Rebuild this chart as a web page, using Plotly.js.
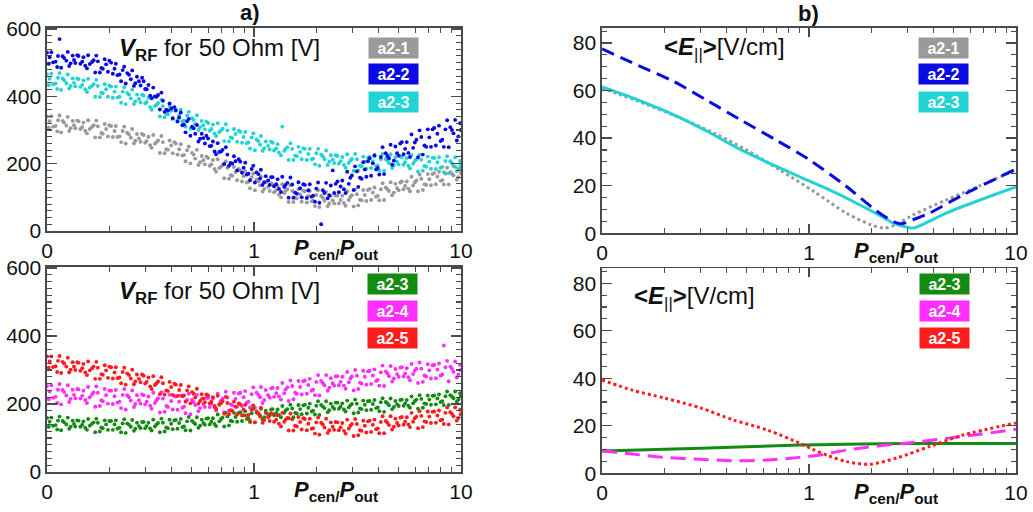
<!DOCTYPE html>
<html>
<head>
<meta charset="utf-8">
<script src="https://cdn.plot.ly/plotly-3.0.1.min.js"></script>
<style>html,body{margin:0;padding:0;background:#fff;}#chart{width:1033px;height:512px;}</style>
</head>
<body>
<div id="chart"></div>
<script>
// ---------- DATA ----------
// P_cen/P_out sample points of the two scans (shared by the scatter series)
const ratioScan1 = [
  0.100, 0.103, 0.107, 0.112, 0.115, 0.119, 0.124, 0.128, 0.133, 0.137,
  0.142, 0.148, 0.153, 0.158, 0.165, 0.171, 0.176, 0.183, 0.190, 0.197,
  0.204, 0.212, 0.219, 0.228, 0.236, 0.244, 0.254, 0.263, 0.272, 0.283,
  0.293, 0.303, 0.315, 0.326, 0.338, 0.351, 0.363, 0.377, 0.391, 0.405,
  0.419, 0.435, 0.451, 0.467, 0.484, 0.502, 0.520, 0.539, 0.559, 0.579,
  0.600, 0.622, 0.645, 0.668, 0.693, 0.718, 0.744, 0.771, 0.800, 0.829,
  0.859, 0.891, 0.923, 0.957, 0.992, 1.03, 1.07, 1.10, 1.14, 1.19,
  1.23, 1.28, 1.32, 1.37, 1.42, 1.47, 1.53, 1.58, 1.64, 1.70,
  1.76, 1.83, 1.90, 1.97, 2.04, 2.11, 2.19, 2.27, 2.35, 2.44,
  2.53, 2.62, 2.72, 2.82, 2.92, 3.03, 3.14, 3.25, 3.37, 3.49,
  3.62, 3.75, 3.89, 4.03, 4.18, 4.33, 4.49, 4.65, 4.82, 5.00,
  5.18, 5.37, 5.57, 5.77, 5.98, 6.20, 6.43, 6.66, 6.91, 7.16,
  7.42, 7.69, 7.97, 8.26, 8.57, 8.88, 9.20, 9.54, 9.89
];
const ratioScan2 = [
  0.102, 0.105, 0.110, 0.113, 0.117, 0.121, 0.126, 0.130, 0.135, 0.140,
  0.145, 0.150, 0.156, 0.161, 0.168, 0.173, 0.180, 0.186, 0.193, 0.200,
  0.208, 0.215, 0.224, 0.232, 0.240, 0.249, 0.258, 0.267, 0.278, 0.288,
  0.298, 0.309, 0.320, 0.332, 0.344, 0.357, 0.370, 0.384, 0.398, 0.412,
  0.427, 0.443, 0.459, 0.475, 0.493, 0.511, 0.530, 0.549, 0.569, 0.589,
  0.611, 0.633, 0.656, 0.680, 0.705, 0.731, 0.757, 0.785, 0.814, 0.844,
  0.875, 0.907, 0.940, 0.974, 1.01, 1.05, 1.08, 1.12, 1.17, 1.21,
  1.25, 1.30, 1.35, 1.40, 1.45, 1.50, 1.55, 1.61, 1.67, 1.73,
  1.80, 1.86, 1.93, 2.00, 2.07, 2.15, 2.23, 2.31, 2.40, 2.48,
  2.57, 2.67, 2.77, 2.87, 2.97, 3.08, 3.19, 3.31, 3.43, 3.55,
  3.68, 3.82, 3.96, 4.10, 4.25, 4.41, 4.57, 4.74, 4.91, 5.09,
  5.28, 5.47, 5.67, 5.87, 6.09, 6.31, 6.54, 6.79, 7.03, 7.29,
  7.56, 7.83, 8.12, 8.41, 8.72, 9.04, 9.37, 9.71, 9.97
];
// V_RF for 50 Ohm [V], scan 1 / scan 2
const vA21s1 = [
  340,326,310,296,343,327,313,297,327,305,
  326,309,298,329,309,278,311,291,318,281,
  312,297,279,264,310,292,277,260,288,265,
  285,267,255,285,264,232,264,243,269,231,
  260,243,224,207,251,232,215,196,223,198,
  217,198,184,213,191,157,188,166,190,151,
  180,163,144,127,171,153,136,117,144,119,
  138,121,108,139,119,86,119,99,124,87,
  118,104,88,74,121,104,90,74,104,82,
  105,92,83,118,101,73,109,93,122,89,
  125,114,102,91,142,129,119,106,140,121,
  147,134,126,161,145,118,155,139,169,136,
  172,161,149,138,188,175,165,152,185
];
const vA21s2 = [
  307,341,312,329,293,322,339,305,314,328,
  303,322,290,303,314,328,278,289,303,314,
  279,312,281,297,260,287,303,268,275,288,
  262,280,247,259,269,282,231,241,254,264,
  227,258,226,240,201,227,241,204,210,221,
  194,211,176,187,196,207,155,164,175,184,
  147,178,146,160,121,148,162,125,131,142,
  115,134,100,113,124,136,86,97,109,120,
  85,119,90,107,71,99,116,82,91,105,
  82,105,75,92,106,123,76,91,107,122,
  92,129,104,124,92,124,145,114,127,144,
  124,147,118,135,150,168,122,137,154,169,
  139,176,151,171,138,170,191,160,172
];
const vA22s1 = [
  530,516,501,487,570,519,506,490,521,499,
  520,503,491,522,502,471,504,484,510,473,
  500,482,463,445,488,469,451,431,458,432,
  445,421,402,426,399,361,387,360,379,335,
  358,337,314,293,333,310,289,266,289,260,
  275,253,236,261,236,199,227,202,222,180,
  206,188,168,151,194,174,156,137,163,137,
  160,139,125,161,137,99,138,114,145,100,
  137,121,102,87,144,20,113,97,135,113,
  147,132,124,176,158,122,177,158,204,161,
  216,201,183,168,249,231,216,197,251,224,
  264,244,232,287,263,219,279,254,302,250,
  306,289,267,250,329,308,290,269,320
];
const vA22s2 = [
  497,531,503,520,485,514,532,498,508,522,
  497,516,483,496,507,521,471,482,495,506,
  467,497,465,478,438,464,477,439,445,455,
  422,434,394,400,404,411,354,358,364,368,
  325,352,316,326,283,305,315,274,276,283,
  252,266,228,235,241,249,194,200,207,213,
  173,203,170,184,144,169,182,145,150,160,
  133,154,116,131,143,159,99,111,127,139,
  98,139,105,126,84,121,143,106,180,140,
  115,150,113,140,165,192,131,155,183,207,
  164,225,187,220,169,223,256,209,231,260,
  228,264,220,247,271,299,227,250,278,302,
  254,313,271,302,249,300,330,281,300
];
const vA23topS1 = [
  466,452,436,422,469,453,439,423,453,430,
  451,434,421,452,431,399,431,411,436,399,
  429,414,397,381,427,410,394,377,405,382,
  402,383,368,397,375,340,371,349,372,333,
  362,345,326,310,354,335,318,300,327,302,
  321,303,290,320,299,267,299,278,303,265,
  295,279,261,245,290,272,256,238,266,242,
  262,245,233,310,244,211,244,224,250,213,
  244,229,213,198,244,227,213,196,225,202,
  223,207,196,228,209,179,213,194,221,185,
  220,207,193,180,229,214,202,187,219,198,
  220,204,194,226,208,177,212,193,221,185,
  217,204,188,175,222,207,193,178,208
];
const vA23topS2 = [
  433,467,438,455,419,448,465,431,440,453,
  428,447,413,426,436,449,398,409,421,432,
  396,429,399,414,377,405,420,385,392,405,
  379,396,360,371,380,390,338,347,357,366,
  329,360,328,343,304,330,344,308,314,325,
  298,316,282,294,304,317,266,276,288,298,
  262,294,263,278,240,267,282,246,253,265,
  239,258,225,238,249,261,211,222,235,246,
  211,244,215,231,194,222,239,206,212,225,
  200,220,188,202,214,229,180,192,206,218,
  187,222,195,213,179,209,228,195,206,221,
  197,217,186,200,213,227,179,191,206,218,
  184,219,190,208,172,202,219,186,195
];
const vA23botS1 = [
  159,148,136,125,163,150,140,127,151,134,
  151,139,130,156,142,117,145,131,152,124,
  150,140,128,117,155,143,133,121,145,129,
  147,135,128,154,140,117,145,131,154,126,
  153,144,132,123,162,150,141,130,154,139,
  158,148,141,169,156,134,163,151,174,148,
  176,167,156,147,186,175,166,155,180,166,
  185,174,167,194,181,158,187,174,197,170,
  198,189,178,169,208,197,188,176,201,186,
  204,192,184,210,196,173,201,187,210,182,
  209,200,188,179,217,206,196,185,209,194,
  213,202,195,222,209,186,215,202,225,198,
  225,216,206,197,237,226,217,207,232
];
const vA23botS2 = [
  133,160,138,151,123,146,160,133,141,152,
  133,149,124,136,146,157,119,129,140,150,
  124,152,130,143,115,139,153,127,135,147,
  129,145,122,134,144,157,119,129,142,152,
  127,156,134,149,122,146,161,136,144,157,
  140,158,135,149,160,174,137,149,162,174,
  150,179,158,173,146,171,186,161,170,184,
  167,184,161,174,185,198,161,172,185,196,
  172,201,180,195,168,193,208,182,191,204,
  186,202,178,190,200,213,175,185,198,208,
  183,212,190,205,177,202,216,191,199,212,
  195,212,189,202,213,226,189,200,213,224,
  199,228,208,223,197,222,237,213,222
];
const vA24s1 = [
  253,237,218,203,259,241,225,206,242,217,
  243,224,212,250,228,192,233,211,244,201,
  239,223,204,188,244,226,210,191,226,201,
  226,207,195,233,211,175,216,194,227,184,
  222,207,189,173,230,212,197,179,215,191,
  218,201,190,230,210,176,219,199,233,192,
  233,220,204,190,249,233,220,203,241,219,
  248,232,222,262,243,209,253,233,268,228,
  269,256,239,226,285,268,255,239,276,254,
  282,265,254,294,275,240,283,263,298,257,
  298,284,268,254,313,296,282,266,303,280,
  308,290,279,318,298,262,304,284,317,275,
  315,301,284,372,327,310,295,278,315
];
const vA24s2 = [
  214,255,221,242,199,235,255,215,227,244,
  216,239,203,220,234,252,194,208,226,240,
  200,241,207,227,184,220,240,200,211,228,
  199,222,186,203,217,235,177,191,209,223,
  183,225,192,212,170,206,227,188,200,218,
  191,216,181,200,216,236,180,196,215,231,
  194,238,207,229,189,227,250,212,226,246,
  221,247,213,232,249,269,214,230,250,267,
  230,274,242,265,225,262,285,248,261,281,
  255,280,245,264,281,300,244,260,280,296,
  259,302,271,293,253,290,312,275,288,307,
  281,305,270,288,304,322,265,281,299,314,
  276,319,287,308,267,304,325,287,300
];
const vA25s1 = [
  340,325,309,294,341,324,310,293,323,300,
  321,305,293,325,305,274,307,288,314,277,
  308,293,276,261,307,290,275,258,287,264,
  283,265,252,282,261,229,261,240,265,227,
  257,241,223,207,252,235,219,201,229,205,
  225,207,194,224,203,171,203,182,207,169,
  199,183,166,150,196,178,163,145,174,150,
  171,154,142,174,154,122,155,136,162,125,
  156,142,127,113,160,145,131,115,146,124,
  146,131,121,154,136,106,141,123,151,116,
  151,139,126,114,164,150,138,125,157,137,
  162,148,140,174,158,129,165,149,178,144,
  178,166,152,141,190,176,164,151,183
];
const vA25s2 = [
  307,340,311,327,291,319,336,301,310,323,
  298,318,285,299,310,324,274,286,299,310,
  275,308,278,294,257,285,301,266,274,287,
  260,278,244,256,266,279,228,238,250,260,
  224,256,225,240,202,230,245,209,216,228,
  202,220,186,198,208,221,170,180,192,202,
  166,198,168,183,146,173,189,153,161,173,
  148,167,134,148,159,172,122,134,147,158,
  123,157,129,146,110,140,157,123,133,147,
  123,144,113,128,141,156,108,121,136,149,
  118,154,128,147,114,145,164,133,144,160,
  139,161,132,148,163,179,132,147,163,177,
  145,181,154,174,140,171,190,159,170
];
// <E||> [V/cm] curves
const eA21x = [0.1, 0.15, 0.24, 0.35, 0.5, 0.72, 1.06, 1.52, 2.0, 2.3, 2.6, 3.18, 4.6, 6.7, 10];
const eA21y = [61, 55.5, 48.4, 42, 35, 26.7, 17.5, 8.4, 3.5, 2.2, 3.4, 7.7, 14, 20, 26.7];
const eA22x = [0.1, 0.15, 0.22, 0.32, 0.46, 0.7, 1.0, 1.5, 2.2, 2.75, 3.2, 3.8, 5.5, 10];
const eA22y = [77.5, 70.5, 64, 56, 48, 39, 31, 20, 8.4, 4, 5.8, 8.4, 16, 27];
const eA23x = [0.1, 0.15, 0.22, 0.32, 0.46, 0.7, 1.0, 1.27, 1.6, 2.2, 2.54, 3.0, 3.2, 3.6, 4.6, 6.7, 10];
const eA23y = [61.5, 56, 50, 43, 35.5, 28, 22, 18, 13.8, 7.5, 4.4, 2.5, 2.2, 4, 8.5, 14, 19.5];
const eA23bx = [0.1, 0.3, 0.9, 1.5, 3, 10];
const eA23by = [9.4, 10.5, 11.9, 12.2, 12.5, 12.5];
const eA24x = [0.1, 0.14, 0.2, 0.3, 0.43, 0.63, 0.9, 1.13, 1.52, 2.2, 3.16, 4.6, 6.7, 10];
const eA24y = [9.5, 8.1, 6.7, 5.9, 5.3, 5.6, 6.7, 7.7, 9.8, 11.6, 13, 14.7, 16.4, 18.6];
const eA25x = [0.1, 0.14, 0.2, 0.3, 0.43, 0.63, 0.9, 1.05, 1.25, 1.52, 1.97, 2.66, 3.8, 5.5, 10];
const eA25y = [39.3, 35, 31.7, 27.5, 22.5, 18.2, 12.7, 10, 7.3, 4.9, 3.8, 6.5, 11.2, 16, 21.2];
// tick labels
const xTickVals = [0.1, 1, 10];
const xTickText = ['0', '1', '10'];
const vTickVals = [0, 200, 400, 600];
const vTickText = ['0', '200', '400', '600'];
const eTickVals = [0, 20, 40, 60, 80];
const eTickText = ['0', '20', '40', '60', '80'];
const legendTop = ['a2-1', 'a2-2', 'a2-3'];
const legendBot = ['a2-3', 'a2-4', 'a2-5'];

// ---------- STYLE ----------
const W = 1033, H = 512;
const fx = p => p / W;
const fy = p => 1 - p / H;
const FONT = 'Liberation Sans, Arial, sans-serif';
const C = {gray:'#9a9a9a', blue:'#0a0ae4', cyan:'#22d3d3', green:'#148c14', magenta:'#ff2eff', red:'#ff1c1c'};
const frameColor = '#4a4a4a';
const ratioAll = ratioScan1.concat(ratioScan2);

function scat(y1, y2, color, xa, ya) {
  return {x: ratioAll, y: y1.concat(y2), type: 'scatter', mode: 'markers', xaxis: xa, yaxis: ya,
    marker: {color: color, size: 3.9, line: {width: 0}}, hoverinfo: 'skip'};
}
function curve(x, y, color, dash, xa, ya) {
  return {x: x, y: y, type: 'scatter', mode: 'lines', xaxis: xa, yaxis: ya,
    line: {color: color, width: 3, dash: dash, shape: 'spline', smoothing: 0.8}, hoverinfo: 'skip'};
}

const data = [
  scat(vA21s1, vA21s2, C.gray, 'x', 'y'),
  scat(vA23topS1, vA23topS2, C.cyan, 'x', 'y'),
  scat(vA22s1, vA22s2, C.blue, 'x', 'y'),
  curve(eA21x, eA21y, C.gray, 'dot', 'x2', 'y2'),
  curve(eA23x, eA23y, C.cyan, 'solid', 'x2', 'y2'),
  curve(eA22x, eA22y, C.blue, '13px,7px', 'x2', 'y2'),
  scat(vA24s1, vA24s2, C.magenta, 'x3', 'y3'),
  scat(vA23botS1, vA23botS2, C.green, 'x3', 'y3'),
  scat(vA25s1, vA25s2, C.red, 'x3', 'y3'),
  curve(eA23bx, eA23by, C.green, 'solid', 'x4', 'y4'),
  curve(eA24x, eA24y, C.magenta, '15px,8px', 'x4', 'y4'),
  curve(eA25x, eA25y, C.red, 'dot', 'x4', 'y4')
];

const minorX = [0.2,0.3,0.4,0.5,0.6,0.7,0.8,0.9,2,3,4,5,6,7,8,9];
function xAxis(d, anchor) {
  return {domain: d, anchor: anchor, type: 'log', range: [-1, 1],
    tickmode: 'array', tickvals: xTickVals, ticktext: xTickText,
    ticks: 'inside', ticklen: 9, tickwidth: 1.3, tickcolor: frameColor,
    minor: {tickmode: 'array', tickvals: minorX, ticks: 'inside', ticklen: 5, tickwidth: 1.1, tickcolor: frameColor},
    showline: true, linecolor: frameColor, linewidth: 1.6, mirror: 'ticks',
    showgrid: false, zeroline: false,
    tickfont: {family: FONT, size: 21, color: '#111'}};
}
function yAxis(d, anchor, rng, tv, tt, minorD) {
  return {domain: d, anchor: anchor, range: rng,
    tickmode: 'array', tickvals: tv, ticktext: tt,
    ticks: 'inside', ticklen: 10, tickwidth: 1.3, tickcolor: frameColor,
    minor: {dtick: minorD, ticks: 'inside', ticklen: 5, tickwidth: 1.1, tickcolor: frameColor},
    showline: true, linecolor: frameColor, linewidth: 1.6, mirror: 'ticks',
    showgrid: false, zeroline: false,
    tickfont: {family: FONT, size: 21, color: '#111'}};
}

const xTitle = '<b><i>P</i></b><sub><b>cen/</b></sub><b><i>P</i></b><sub><b>out</b></sub>';
const vTitle = '<b><i>V</i></b><sub><b>RF</b></sub> for 50 Ohm [V]';
const eTitle = '<b>&lt;<i>E</i></b><sub>||</sub><b>&gt;</b>[V/cm]';

const ann = [];
function txt(text, x, y, size, xanchor, yanchor) {
  ann.push({text: text, x: fx(x), y: fy(y), xref: 'paper', yref: 'paper', showarrow: false,
    xanchor: xanchor, yanchor: yanchor, font: {family: FONT, size: size, color: '#111'}});
}
txt('<b>a)</b>', 250, 12, 22, 'center', 'middle');
txt('<b>b)</b>', 808, 13, 22, 'center', 'middle');
txt(xTitle, 292, 233, 22, 'left', 'top');
txt(xTitle, 852, 236, 22, 'left', 'top');
txt(xTitle, 292, 475, 22, 'left', 'top');
txt(xTitle, 852, 477, 22, 'left', 'top');
txt(vTitle, 117, 49, 24, 'left', 'middle');
txt(vTitle, 117, 292, 24, 'left', 'middle');
txt(eTitle, 662, 48, 24, 'left', 'middle');
txt(eTitle, 632, 297, 24, 'left', 'middle');

function legBox(label, color, x, y) {
  ann.push({text: '<b>' + label + '</b>', x: fx(x), y: fy(y), xref: 'paper', yref: 'paper', showarrow: false,
    xanchor: 'left', yanchor: 'top', width: 49, height: 20, borderpad: 0, bgcolor: color,
    font: {family: FONT, size: 16, color: '#fff'}});
}
const topCols = [C.gray, C.blue, C.cyan];
const botCols = [C.green, C.magenta, C.red];
const boxY = [37, 63, 91];
const boxYb = [273, 300, 327];
legendTop.forEach((l, i) => { legBox(l, topCols[i], 368, boxY[i]); legBox(l, topCols[i], 918, boxY[i]); });
legendBot.forEach((l, i) => { legBox(l, botCols[i], 367, boxYb[i]); legBox(l, botCols[i], 919, boxYb[i]); });

const layout = {
  width: W, height: H, margin: {l: 0, r: 0, t: 0, b: 0},
  paper_bgcolor: '#fff', plot_bgcolor: '#fff', showlegend: false,
  xaxis: xAxis([fx(47), fx(461)], 'y'),
  yaxis: yAxis([fy(231), fy(28)], 'x', [0, 603], vTickVals, vTickText, 20),
  xaxis2: xAxis([fx(602), fx(1016)], 'y2'),
  yaxis2: yAxis([fy(233.3), fy(28)], 'x2', [0, 86.3], eTickVals, eTickText, 5),
  xaxis3: xAxis([fx(47), fx(461)], 'y3'),
  yaxis3: yAxis([fy(472), fy(267)], 'x3', [0, 603], vTickVals, vTickText, 20),
  xaxis4: xAxis([fx(602), fx(1016)], 'y4'),
  yaxis4: yAxis([fy(473.3), fy(268.3)], 'x4', [0, 86.3], eTickVals, eTickText, 5),
  annotations: ann
};
Plotly.newPlot('chart', data, layout, {staticPlot: true, displayModeBar: false});
</script>
</body>
</html>
